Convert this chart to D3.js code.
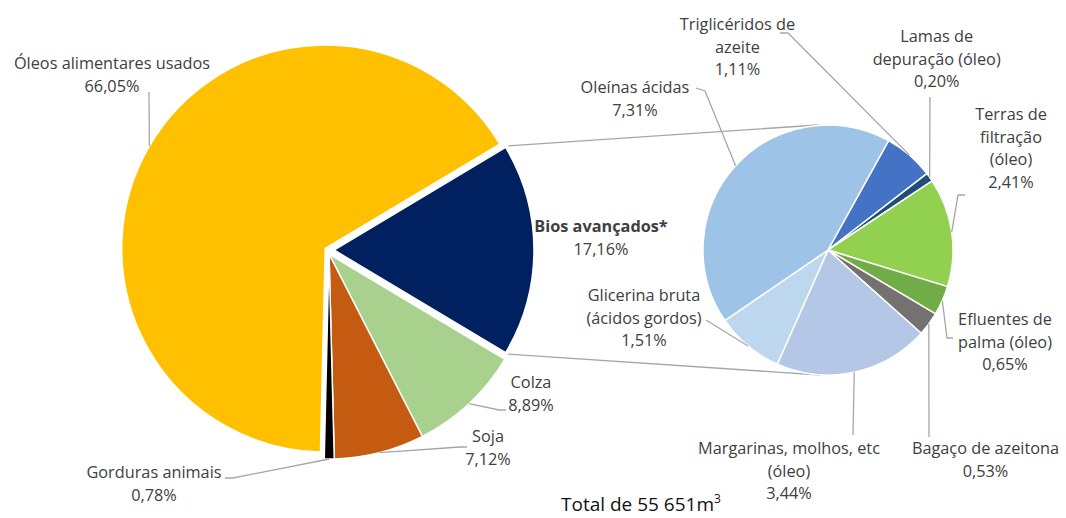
<!DOCTYPE html>
<html>
<head>
<meta charset="utf-8">
<script src="https://cdn.jsdelivr.net/npm/d3@7"></script>
<style>
  body { margin: 0; background: #fff; }
  text { font-family: "Open Sans", sans-serif; }
</style>
</head>
<body>
<svg id="chart" width="1066" height="518"></svg>
<script>
// main pie (percent of total)
const mainNames = ["Óleos alimentares usados", "Bios avançados*", "Colza", "Soja", "Gorduras animais"];
const mainValues = [66.05, 17.16, 8.89, 7.12, 0.78];
const mainLabelLines = [["Óleos alimentares usados"], ["Bios avançados*"], ["Colza"], ["Soja"], ["Gorduras animais"]];

// secondary pie = breakdown of "Bios avançados*"
const subNames = ["Triglicéridos de azeite", "Lamas de depuração (óleo)", "Terras de filtração (óleo)",
    "Efluentes de palma (óleo)", "Bagaço de azeitona", "Margarinas, molhos, etc (óleo)",
    "Glicerina bruta (ácidos gordos)", "Oleínas ácidas"];
const subValues = [1.11, 0.20, 2.41, 0.65, 0.53, 3.44, 1.51, 7.31];
const subLabelLines = [["Triglicéridos de", "azeite"], ["Lamas de", "depuração (óleo)"], ["Terras de", "filtração", "(óleo)"],
    ["Efluentes de", "palma (óleo)"], ["Bagaço de azeitona"], ["Margarinas, molhos, etc", "(óleo)"],
    ["Glicerina bruta", "(ácidos gordos)"], ["Oleínas ácidas"]];

const totalText = "Total de 55 651m";
const totalSup = "3";

// ---- layout ----
const mainColors = ["#FFC000", "#002060", "#A9D18E", "#C55A11", "#000000"];
const subColors = ["#4472C4", "#1F4E79", "#92D050", "#70AD47", "#767171", "#B4C7E7", "#BDD7EE", "#9DC3E6"];

const mainCenter = [329, 254], mainR = 205;
// exploded slices sit on their own centre / radius
const mainSliceGeom = [
    {c: [325.2, 248.5], r: 203.5},
    {c: [334, 250], r: 200},
    null, null, null
];
const subCenter = [828, 250], subR = 125;

const lineH = 22.7;
const fontSize = 16.3;
const labelColor = "#404040";
const leaderColor = "#A6A6A6";

// label anchor (centre x, first baseline) and leader attach points
const mainLabelPos = [
    {x: 112, y: 69, leader: [[149, 92]]},
    {x: 601, y: 232, leader: null, bold: true},
    {x: 531, y: 388, leader: [[506, 410], [499, 410]]},
    {x: 488, y: 442, leader: [[467, 447], [460, 447]]},
    {x: 154, y: 478, leader: [[225, 478], [233, 478]]}
];
const subLabelPos = [
    {x: 737.5, y: 30, leader: [[780, 33], [788, 33]]},
    {x: 936.7, y: 42, leader: [[930, 97]]},
    {x: 1011, y: 120, leader: [[965, 195], [958, 195]]},
    {x: 1005, y: 325, leader: [[953, 338], [947, 338]]},
    {x: 985.5, y: 454, leader: [[929, 437]]},
    {x: 789, y: 454, leader: [[853, 435]]},
    {x: 644, y: 301, leader: [[706, 320]]},
    {x: 635, y: 93, leader: [[696, 88], [705, 91]]}
];

const fmt = v => d3.format(".2f")(v).replace(".", ",") + "%";
const rad = deg => deg * Math.PI / 180;

const svg = d3.select("#chart");

// main pie: "Bios avançados*" centred on 3 o'clock
const total = d3.sum(mainValues);
const mainStart = Math.PI / 2 - (mainValues[0] + mainValues[1] / 2) / total * 2 * Math.PI;
const mainPie = d3.pie().sort(null).startAngle(mainStart).endAngle(mainStart + 2 * Math.PI);
const mainArcs = mainPie(mainValues);

const subStart = rad(29);
const subPie = d3.pie().sort(null).startAngle(subStart).endAngle(subStart + 2 * Math.PI);
const subArcs = subPie(subValues);

const geomOf = i => mainSliceGeom[i] || {c: mainCenter, r: mainR};

// connector lines between the two pies
const bios = mainArcs[1];
const bg = geomOf(1);
const edge = (c, r, a) => [c[0] + r * Math.sin(a), c[1] - r * Math.cos(a)];
const conn = [
    [edge(bg.c, bg.r + 3, bios.startAngle), [subCenter[0] - 10, subCenter[1] - subR]],
    [edge(bg.c, bg.r + 3, bios.endAngle), [subCenter[0] - 8, subCenter[1] + subR]]
];
svg.append("g").selectAll("line").data(conn).join("line")
    .attr("x1", d => d[0][0]).attr("y1", d => d[0][1])
    .attr("x2", d => d[1][0]).attr("y2", d => d[1][1])
    .attr("stroke", leaderColor).attr("stroke-width", 1.3);

// slices
svg.append("g").selectAll("path").data(mainArcs).join("path")
    .attr("transform", (d, i) => `translate(${geomOf(i).c})`)
    .attr("d", (d, i) => d3.arc().innerRadius(0).outerRadius(geomOf(i).r)(d))
    .attr("fill", (d, i) => mainColors[i])
    .attr("stroke", "#fff").attr("stroke-width", 1.5).attr("stroke-linejoin", "round");

const subArc = d3.arc().innerRadius(0).outerRadius(subR);
svg.append("g").attr("transform", `translate(${subCenter})`)
    .selectAll("path").data(subArcs).join("path")
    .attr("d", subArc)
    .attr("fill", (d, i) => subColors[i])
    .attr("stroke", "#fff").attr("stroke-width", 1.5).attr("stroke-linejoin", "round");

// leader lines
const line = d3.line();
const leaders = [];
mainArcs.forEach((d, i) => {
    const p = mainLabelPos[i];
    if (!p.leader) return;
    const g = geomOf(i);
    const mid = (d.startAngle + d.endAngle) / 2;
    leaders.push(p.leader.concat([edge(g.c, g.r, mid)]));
});
subArcs.forEach((d, i) => {
    const p = subLabelPos[i];
    const mid = (d.startAngle + d.endAngle) / 2;
    leaders.push(p.leader.concat([edge(subCenter, subR, mid)]));
});
svg.append("g").selectAll("path").data(leaders).join("path")
    .attr("d", line)
    .attr("fill", "none")
    .attr("stroke", leaderColor).attr("stroke-width", 1.3);

// labels
function drawLabel(lines, value, pos) {
    const t = svg.append("text")
        .attr("text-anchor", "middle")
        .attr("font-size", fontSize)
        .attr("fill", labelColor);
    lines.concat([fmt(value)]).forEach((s, k) => {
        t.append("tspan")
            .attr("x", pos.x)
            .attr("y", pos.y + k * lineH)
            .attr("font-weight", pos.bold && k < lines.length ? "bold" : null)
            .text(s);
    });
}
mainValues.forEach((v, i) => drawLabel(mainLabelLines[i], v, mainLabelPos[i]));
subValues.forEach((v, i) => drawLabel(subLabelLines[i], v, subLabelPos[i]));

// total
const tt = svg.append("text")
    .attr("x", 561).attr("y", 511)
    .attr("font-size", 19)
    .attr("fill", "#111");
tt.append("tspan").text(totalText);
tt.append("tspan").attr("dy", -8).attr("font-size", 12).text(totalSup);
</script>
</body>
</html>
